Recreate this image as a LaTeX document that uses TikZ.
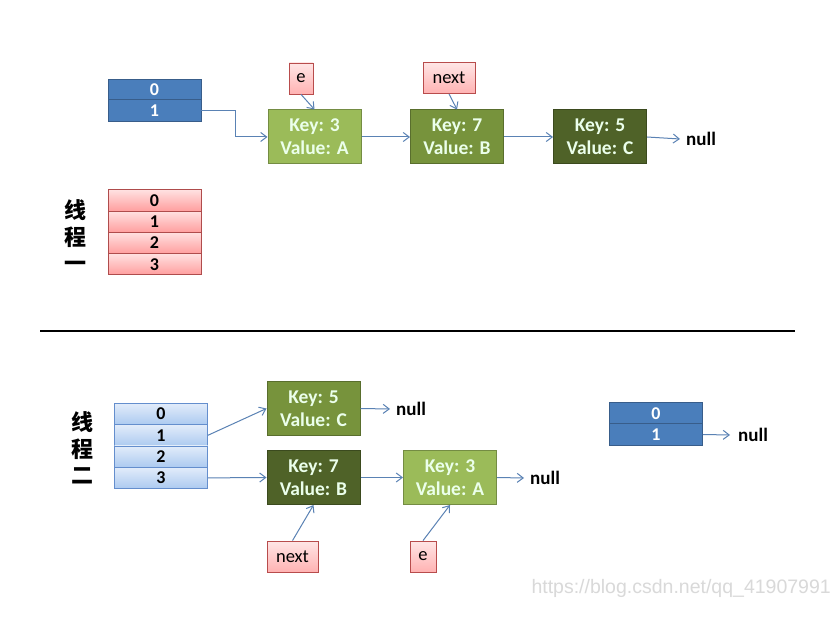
\documentclass[tikz,border=0pt]{standalone}
\usepackage{fontspec}
\setmainfont{Carlito}
\newfontfamily\cjk{Noto Sans CJK SC}
\newfontfamily\wmfont{Liberation Sans}
\usetikzlibrary{arrows.meta, positioning}

\definecolor{arrblue}{RGB}{74,126,187}
\definecolor{arrblueline}{RGB}{56,93,138}
\definecolor{greenA}{RGB}{155,187,89}
\definecolor{greenB}{RGB}{119,147,60}
\definecolor{greenC}{RGB}{79,98,40}
\definecolor{linkcol}{RGB}{90,130,180}
\definecolor{ltbluetop}{RGB}{226,236,250}
\definecolor{ltbluebot}{RGB}{172,202,240}
\definecolor{ltblueline}{RGB}{100,142,205}

\tikzset{
  cell/.style={draw, line width=0.8pt, minimum width=93pt, minimum height=21.25pt,
    inner sep=0pt, font=\fontsize{18}{20}\selectfont\bfseries},
  bluecell/.style={cell, fill=arrblue, draw=arrblueline, text=white},
  pinkcell/.style={cell, top color=red!12, bottom color=red!38, draw=red!55!black!70, text=black},
  lightcell/.style={cell, top color=ltbluetop, bottom color=ltbluebot, draw=ltblueline, text=black},
  entry/.style={draw, line width=1pt, minimum width=93pt, minimum height=54pt, align=center,
    inner sep=0pt, text=white!92!green, font=\fontsize{19.5}{23}\selectfont\bfseries},
  entryA/.style={entry, fill=greenA, draw=greenA!75!black},
  entryB/.style={entry, fill=greenB, draw=greenB!75!black},
  entryC/.style={entry, fill=greenC, draw=greenC!75!black},
  ptr/.style={draw=red!60!black!70, top color=red!10, bottom color=red!30, line width=0.8pt,
    minimum height=31pt, inner sep=0pt, font=\fontsize{18.5}{20}\selectfont},
  nulltxt/.style={anchor=west, inner sep=0pt, font=\fontsize{19}{20}\selectfont\bfseries},
  link/.style={draw=linkcol, line width=1pt, -{Straight Barb[length=6pt, width=9pt]}},
  thread/.style={align=center, font=\cjk\bfseries\fontsize{22}{26.5}\selectfont}
}

\begin{document}
\begin{tikzpicture}[x=1pt, y=-1pt]
\fill[white] (0,0) rectangle (833,620);
\useasboundingbox (0,0) rectangle (833,620);

% thread one
\foreach \i in {0,1}
  \node[bluecell] (tb\i) at (154.5,{90+20.5*\i}) {\i};
\foreach \i in {0,...,3}
  \node[pinkcell] (tp\i) at (154.5,{200.5+21.25*\i}) {\i};
\node[thread] (t1) at (75,236) {线\\程\\一};

\node[entryA] (ka) at (314.5,137) {Key: 3\\Value: A};
\node[entryB] (kb) at (457,137) {Key: 7\\Value: B};
\node[entryC] (kc) at (600,137) {Key: 5\\Value: C};
\node[nulltxt] (n1) at (686,139) {null};
\node[ptr, minimum width=24pt] (e1) at (301,78.5) {e};
\node[ptr, minimum width=52pt] (nx1) at (449,78) {next};

\draw[link] (tb1.east) -- ++(34,0) |- (ka.west);
\draw[link] (ka) -- (kb);
\draw[link] (kb) -- (kc);
\draw[link] (kc.east) -- ([xshift=-6pt]n1.west);
\draw[link] (e1.south) -- (ka.north);
\draw[link] (nx1.south) -- (kb.north);

% separator
\draw[line width=2.5pt] (40,331) -- (795,331);

% thread two
\node[thread] (t2) at (82,448) {线\\程\\二};
\foreach \i in {0,...,3}
  \node[lightcell] (tl\i) at (161,{414+21.3*\i}) {\i};

\node[entryB] (kc2) at (313.5,408.5) {Key: 5\\Value: C};
\node[entryC] (kb2) at (313.5,477.5) {Key: 7\\Value: B};
\node[entryA] (ka2) at (450,477.5) {Key: 3\\Value: A};
\node[nulltxt] (n2) at (396,409) {null};
\node[nulltxt] (n3) at (530,478) {null};
\node[ptr, minimum width=51pt] (nx2) at (292.5,556.5) {next};
\node[ptr, minimum width=26pt] (e2) at (423,556.5) {e};

\draw[link] (tl1.east) -- (kc2.west);
\draw[link] (tl3.east) -- (kb2.west);
\draw[link] (kb2) -- (ka2);
\draw[link] (kc2.east) -- ([xshift=-6pt]n2.west);
\draw[link] (ka2.east) -- ([xshift=-6pt]n3.west);
\draw[link] (nx2.north) -- (kb2.south);
\draw[link] (e2.north) -- (ka2.south);

% new table
\foreach \i in {0,1}
  \node[bluecell] (nb\i) at (656,{413.5+21*\i}) {\i};
\node[nulltxt] (n4) at (738,435) {null};
\draw[link] (nb1.east) -- ([xshift=-8pt]n4.west);

\node[anchor=west, text=gray!30, font=\wmfont\fontsize{19.5}{20}\selectfont] (wm) at (528,588) {https://blog.csdn.net/qq\_41907991};
\end{tikzpicture}
\end{document}
